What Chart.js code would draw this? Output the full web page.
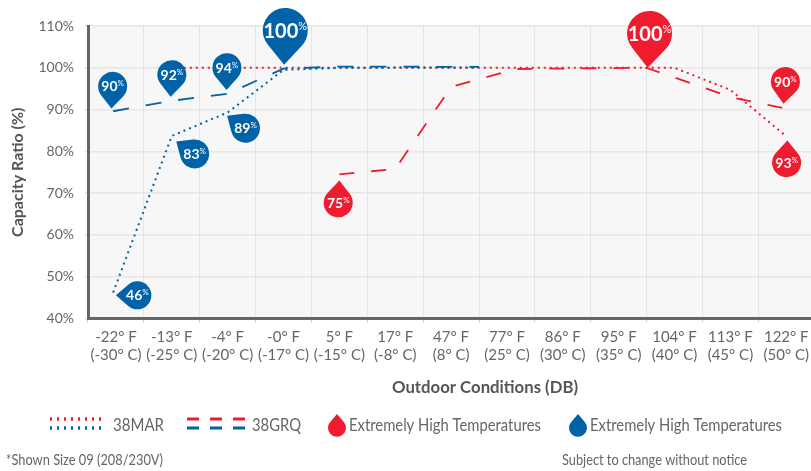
<!DOCTYPE html>
<html>
<head>
<meta charset="utf-8">
<script src="https://cdn.jsdelivr.net/npm/chart.js@4/dist/chart.umd.min.js"></script>
<style>
  html, body { margin: 0; padding: 0; background: #fff; overflow: hidden; }
  #wrap { width: 811px; height: 471px; overflow: hidden; }
</style>
</head>
<body>
<div id="wrap"><canvas id="capacityChart" width="815" height="471"></canvas></div>
<script>
const categories = [
  ['-22° F', '(-30° C)'], ['-13° F', '(-25° C)'], ['-4° F', '(-20° C)'], ['-0° F', '(-17° C)'],
  ['5° F', '(-15° C)'], ['17° F', '(-8° C)'], ['47° F', '(8° C)'], ['77° F', '(25° C)'],
  ['86° F', '(30° C)'], ['95° F', '(35° C)'], ['104° F', '(40° C)'], ['113° F', '(45° C)'], ['122° F', '(50° C)']
];

// x is the position along the categories (0 = first), so lines can stop between two of them
const heatMarX = [1, 10, 11, 12];
const heatMarY = [100, 100, 94.7, 83.6];
const heatGrqX = [4, 5, 6, 7.15, 9.5, 11, 12];
const heatGrqY = [74.5, 75.8, 95.4, 99.7, 100, 93, 90.2];
const coolMarX = [-0.05, 1, 2, 3, 4, 6.5];
const coolMarY = [46.2, 83.7, 89.3, 99.5, 100, 100.1];
const coolGrqX = [-0.05, 1, 2, 3, 4, 6.5];
const coolGrqY = [89.6, 92.1, 93.8, 99.8, 100.3, 100.2];

// where each pin's tip lands, and the value printed on it
const coolPinX = [-0.08, 0.98, 1.98, 3.01, 1.99, 1.08, 0];
const coolPinY = [90.25, 93.05, 94.7, 100.7, 88.5, 82.35, 45.55];
const coolPinLabels = [90, 92, 94, 100, 89, 83, 46];
const heatPinX = [4, 9.52, 11.95, 12.02];
const heatPinY = [73, 100, 91.4, 82.6];
const heatPinLabels = [75, 100, 90, 93];

const RED = '#ee1c2e';
const BLUE = '#0162a8';
const GREY = '#666';
const FONT = 'Lato, "Open Sans", sans-serif';

// direction from tip to round end (degrees, canvas angles) and radius of each pin
const coolPinShape = [[-87, 14.5], [-87, 14.5], [-89, 14.5], [-88, 22.5], [34, 14.5], [34, 14.5], [0, 14]];
const heatPinShape = [[93, 14.5], [-87, 22.5], [-85, 14.5], [92, 14.5]];

function xy(xs, ys) {
  return xs.map((x, i) => ({ x: x, y: ys[i] }));
}

function pinPath(ctx, tipX, tipY, deg, r) {
  const a = deg * Math.PI / 180;
  const d = r * 1.53;
  const cx = tipX + Math.cos(a) * d;
  const cy = tipY + Math.sin(a) * d;
  const spread = Math.acos(r / d);
  ctx.beginPath();
  ctx.moveTo(tipX, tipY);
  ctx.arc(cx, cy, r, a + Math.PI + spread, a + Math.PI - spread);
  ctx.closePath();
  return { cx, cy };
}

function drawPin(ctx, tipX, tipY, deg, r, label, color) {
  const c = pinPath(ctx, tipX, tipY, deg, r);
  ctx.fillStyle = color;
  ctx.fill();
  const big = r > 20 ? 20 : 14;
  const small = r > 20 ? 11 : 8;
  ctx.fillStyle = '#fff';
  ctx.textBaseline = 'alphabetic';
  ctx.textAlign = 'left';
  ctx.font = 'bold ' + big + 'px ' + FONT;
  const w1 = ctx.measureText(label).width;
  ctx.font = small + 'px ' + FONT;
  const w2 = ctx.measureText('%').width;
  const startX = c.cx - (w1 + w2) / 2;
  const base = c.cy + big * 0.36;
  ctx.font = 'bold ' + big + 'px ' + FONT;
  ctx.fillText(label, startX, base);
  ctx.font = small + 'px ' + FONT;
  ctx.fillText('%', startX + w1, base - big * 0.36);
}

function legendText(ctx, text, x, width) {
  ctx.fillText(text, x, 425, width);
}

function legendLine(ctx, x1, x2, y, color, dash, lw) {
  ctx.save();
  ctx.strokeStyle = color;
  ctx.lineWidth = lw;
  ctx.setLineDash(dash);
  ctx.beginPath();
  ctx.moveTo(x1, y);
  ctx.lineTo(x2, y);
  ctx.stroke();
  ctx.restore();
}

const plotBackground = {
  id: 'plotBackground',
  beforeDraw(chart) {
    const a = chart.chartArea;
    chart.ctx.fillStyle = '#f7f7f7';
    chart.ctx.fillRect(a.left, a.top, a.width, a.height);
  }
};

const pinsAndNotes = {
  id: 'pinsAndNotes',
  afterDatasetsDraw(chart) {
    const ctx = chart.ctx;
    const sx = chart.scales.pos;
    const sy = chart.scales.y;
    ctx.save();
    coolPinLabels.forEach((label, i) => {
      drawPin(ctx, sx.getPixelForValue(coolPinX[i]), sy.getPixelForValue(coolPinY[i]),
        coolPinShape[i][0], coolPinShape[i][1], label, BLUE);
    });
    heatPinLabels.forEach((label, i) => {
      drawPin(ctx, sx.getPixelForValue(heatPinX[i]), sy.getPixelForValue(heatPinY[i]),
        heatPinShape[i][0], heatPinShape[i][1], label, RED);
    });

    // axis title sits off centre in the original, so it is placed here
    ctx.fillStyle = '#555';
    ctx.textBaseline = 'middle';
    ctx.textAlign = 'center';
    ctx.font = 'bold 17px ' + FONT;
    ctx.fillText('Outdoor Conditions (DB)', 485, 388, 186);

    // legend
    legendLine(ctx, 50, 106, 419, RED, [2, 5], 3.5);
    legendLine(ctx, 50, 106, 428, BLUE, [2, 5], 3.5);
    legendLine(ctx, 187, 245, 419, RED, [12, 11], 3);
    legendLine(ctx, 187, 245, 428, BLUE, [12, 11], 3);
    pinPath(ctx, 337, 414, 90, 9);
    ctx.fillStyle = RED;
    ctx.fill();
    pinPath(ctx, 578, 414, 90, 9);
    ctx.fillStyle = BLUE;
    ctx.fill();

    ctx.fillStyle = GREY;
    ctx.textAlign = 'left';
    ctx.textBaseline = 'middle';
    ctx.font = '18px ' + FONT;
    legendText(ctx, '38MAR', 113, 51);
    legendText(ctx, '38GRQ', 252, 49);
    legendText(ctx, 'Extremely High Temperatures', 349, 192);
    legendText(ctx, 'Extremely High Temperatures', 590, 192);

    ctx.font = '15px ' + FONT;
    ctx.fillText('*Shown Size 09 (208/230V)', 6, 460, 157);
    ctx.fillText('Subject to change without notice', 562, 460, 185);
    ctx.restore();
  }
};

new Chart(document.getElementById('capacityChart'), {
  type: 'line',
  data: {
    labels: categories,
    datasets: [
      { label: '38GRQ', data: xy(coolGrqX, coolGrqY), xAxisID: 'pos', borderColor: BLUE, borderWidth: 1.8, borderDash: [16, 17], pointRadius: 0 },
      { label: '38MAR', data: xy(coolMarX, coolMarY), xAxisID: 'pos', borderColor: BLUE, borderWidth: 2, borderDash: [2, 4], pointRadius: 0 },
      { label: '38GRQ', data: xy(heatGrqX, heatGrqY), xAxisID: 'pos', borderColor: RED, borderWidth: 1.8, borderDash: [15, 17], pointRadius: 0 },
      { label: '38MAR', data: xy(heatMarX, heatMarY), xAxisID: 'pos', borderColor: RED, borderWidth: 2, borderDash: [2, 4], pointRadius: 0 }
    ]
  },
  options: {
    responsive: false,
    animation: false,
    layout: { padding: { top: 26, bottom: 75, left: 0, right: 0 } },
    plugins: { legend: { display: false }, tooltip: { enabled: false } },
    scales: {
      x: {
        type: 'category',
        offset: true,
        afterFit(scale) { scale.height = 77.5; },
        grid: { offset: true, color: '#e4e4e4', tickColor: '#cfcfcf', tickLength: 4 },
        border: { color: GREY, width: 3 },
        ticks: {
          autoSkip: false, maxRotation: 0, minRotation: 0, padding: 6,
          color: GREY, font: { family: FONT, size: 15, lineHeight: 1.2 }
        }
      },
      pos: { type: 'linear', display: false, min: -0.5, max: 12.5 },
      y: {
        min: 40,
        max: 110,
        afterFit(scale) { scale.width = 88; },
        grid: { color: '#e6e6e6', tickColor: '#e0e0e0', tickLength: 3, lineWidth: 1.5 },
        border: { color: GREY, width: 3 },
        title: {
          display: true, text: 'Capacity Ratio (%)', color: '#555',
          font: { family: FONT, size: 16, weight: 'bold' }, padding: { top: 8, bottom: 0 }
        },
        ticks: {
          stepSize: 10, padding: 11, color: GREY,
          font: { family: FONT, size: 14 },
          callback: v => v + '%'
        }
      }
    }
  },
  plugins: [plotBackground, pinsAndNotes]
});
</script>
</body>
</html>
